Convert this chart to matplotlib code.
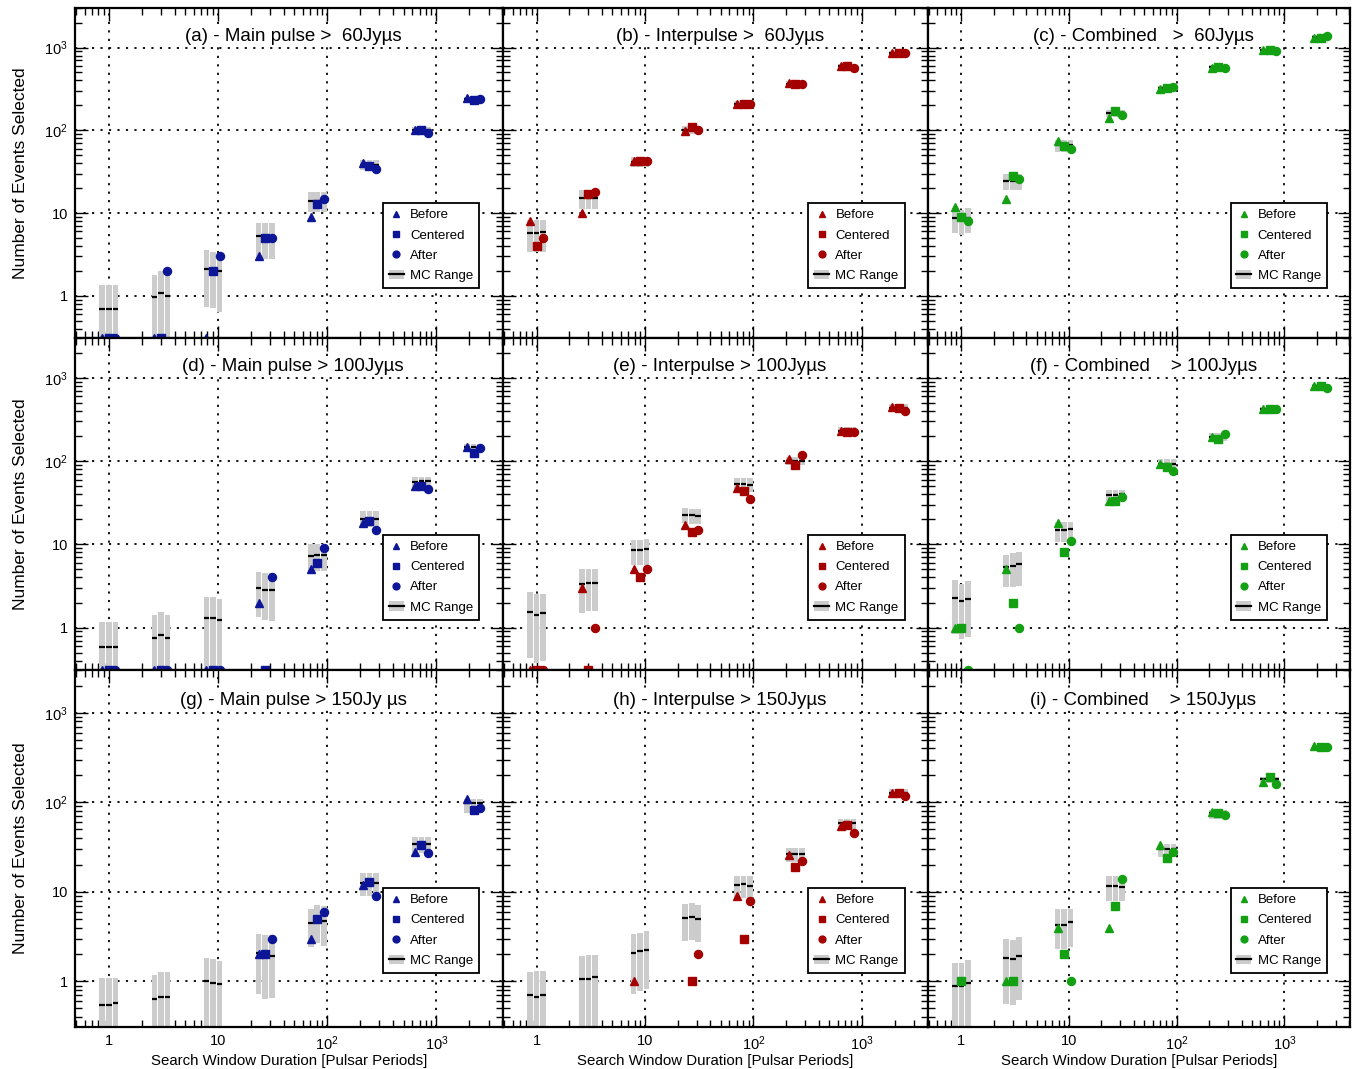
import numpy as np
import matplotlib
matplotlib.use("Agg")
import matplotlib.pyplot as plt
from matplotlib.lines import Line2D
from matplotlib.patches import Patch
from matplotlib.ticker import FixedLocator, LogLocator, NullFormatter

plt.rcParams["font.family"] = ["Liberation Sans", "DejaVu Sans"]

# search windows (pulsar periods)
WINDOWS = [1, 3, 9, 27, 81, 243, 729, 2187]

# ── (a) Main pulse > 60 ──
A_PTS = [[0, 0, 0, 3, 9, 40, 100, 245],
         [0, 0, 2, 5, 13, 37, 100, 230],
         [0, 2, 3, 5, 15, 34, 93, 240]]
A_LO = [[0, 0, 0.74, 2.8, 10.2, 33, 90, 220],
        [0, 0, 0.72, 2.8, 10.2, 33, 90, 220],
        [0, 0, 0.64, 2.8, 10.2, 33, 90, 220]]
A_HI = [[1.34, 1.8, 3.57, 7.5, 17.9, 44, 110, 255],
        [1.34, 1.98, 3.4, 7.5, 17.9, 44, 110, 255],
        [1.34, 1.98, 3.3, 7.5, 17.9, 44, 110, 255]]
A_MED = [[0.69, 0.96, 2.1, 5.3, 14.1, 38, 100, 238],
         [0.69, 1.08, 2.1, 5.0, 14.0, 38, 100, 238],
         [0.69, 1.0, 2.0, 5.0, 13.5, 38, 100, 238]]

# ── (b) Interpulse > 60 ──
B_PTS = [[8, 10, 43, 97, 208, 371, 602, 850],
         [4, 17, 42, 110, 208, 366, 600, 850],
         [5, 18, 43, 100, 206, 360, 570, 850]]
B_LO = [[3.35, 11.2, 36, 90, 192, 340, 545, 800]] * 3
B_HI = [[8.3, 19.1, 47.5, 114, 225, 395, 640, 905]] * 3
B_MED = [[5.8, 15.3, 41, 100, 208, 366, 595, 850],
         [5.7, 15.3, 41, 100, 208, 366, 595, 850],
         [5.9, 15.3, 41, 100, 208, 366, 595, 850]]

# ── (c) Combined > 60 ──
C_PTS = [[12, 15, 74, 140, 318, 565, 940, 1315],
         [9, 28, 65, 170, 320, 580, 940, 1320],
         [8, 26, 59, 153, 329, 570, 915, 1370]]
C_LO = [[5.75, 19.1, 55, 145, 300, 540, 900, 1280],
        [5.4, 19.1, 55, 145, 300, 540, 900, 1280],
        [5.8, 19.1, 55, 145, 300, 540, 900, 1280]]
C_HI = [[11.5, 29.9, 77, 178, 340, 610, 990, 1400],
        [10.9, 29.9, 77, 178, 340, 610, 990, 1400],
        [11.6, 29.9, 77, 178, 340, 610, 990, 1400]]
C_MED = [[8.8, 24.3, 65.7, 161, 320, 575, 940, 1340],
         [8.7, 24.3, 65.7, 161, 320, 575, 940, 1340],
         [8.8, 24.3, 65.7, 161, 320, 575, 940, 1340]]

# ── (d) Main pulse > 100 ──
D_PTS = [[0, 0, 0, 2, 5, 18, 50, 146],
         [0, 0, 0, 0, 6, 19, 50, 124],
         [0, 0, 0, 4, 9, 15, 46, 144]]
D_LO = [[0, 0, 0, 1.36, 4.8, 16.3, 47, 130],
        [0, 0, 0, 1.24, 4.8, 16.3, 47, 130],
        [0, 0, 0, 1.2, 4.8, 16.3, 47, 130]]
D_HI = [[1.16, 1.42, 2.33, 4.7, 10.2, 25, 64.5, 158],
        [1.16, 1.53, 2.33, 4.5, 10.2, 25, 64.5, 158],
        [1.16, 1.42, 2.19, 4.5, 10.2, 25, 64.5, 158]]
D_MED = [[0.59, 0.745, 1.32, 3.02, 7.3, 20.3, 56.5, 146],
         [0.59, 0.816, 1.32, 2.83, 7.5, 20.3, 58, 146],
         [0.59, 0.76, 1.24, 2.83, 7.5, 20.3, 58, 146]]

# ── (e) Interpulse > 100 ──
E_PTS = [[0, 3, 5, 17, 47, 107, 230, 446],
         [0, 0, 4, 14, 44, 89, 225, 437],
         [0, 1, 5, 15, 35, 118, 225, 400]]
E_LO = [[0.43, 1.5, 5.6, 17.9, 42, 90, 205, 400],
        [0.38, 1.58, 5.6, 17.6, 42, 90, 205, 400],
        [0.40, 1.58, 5.7, 17.6, 42, 90, 205, 400]]
E_HI = [[2.65, 5.0, 11.3, 27.5, 63, 112, 255, 480],
        [2.5, 5.1, 11.3, 26.5, 63, 112, 255, 480],
        [2.55, 5.1, 11.6, 26.5, 63, 112, 255, 480]]
E_MED = [[1.54, 3.3, 8.6, 22.5, 53, 100, 230, 437],
         [1.43, 3.4, 8.6, 22.5, 53, 100, 230, 437],
         [1.48, 3.4, 8.8, 22.0, 52, 101, 230, 437]]

# ── (f) Combined > 100 ──
F_PTS = [[1, 5, 18, 33, 92, 195, 420, 790],
         [1, 2, 8, 33, 85, 184, 420, 790],
         [0, 1, 11, 37, 75, 210, 420, 755]]
F_LO = [[0.83, 3.07, 10.8, 33, 80, 175, 390, 740],
        [0.74, 3.1, 10.8, 33, 80, 175, 390, 740],
        [0.77, 3.2, 10.8, 33, 80, 175, 390, 740]]
F_HI = [[3.68, 7.5, 18.7, 45, 105, 215, 450, 840],
        [3.36, 7.8, 18.7, 45, 105, 215, 450, 840],
        [3.58, 8.0, 18.7, 45, 105, 215, 450, 840]]
F_MED = [[2.29, 5.4, 14.9, 39, 92, 195, 420, 790],
         [2.08, 5.5, 14.9, 39, 92, 195, 420, 790],
         [2.18, 5.8, 15.1, 40, 92, 195, 420, 790]]

# ── (g) Main pulse > 150 ──
G_PTS = [[0, 0, 0, 2, 3, 12, 28, 110],
         [0, 0, 0, 2, 5, 13, 33, 82],
         [0, 0, 0, 3, 6, 9, 27, 87]]
G_LO = [[0, 0, 0, 0.73, 2.4, 9, 27, 76],
        [0, 0, 0, 0.64, 2.68, 9, 27, 76],
        [0, 0, 0, 0.66, 2.5, 9, 27, 76]]
G_HI = [[1.08, 1.18, 1.85, 3.4, 6.5, 16.2, 40.8, 108],
        [1.08, 1.28, 1.78, 3.27, 7.06, 16.2, 40.8, 108],
        [1.1, 1.28, 1.69, 3.27, 6.9, 16.2, 40.8, 108]]
G_MED = [[0.54, 0.63, 1.02, 2.07, 4.5, 12.6, 34, 97],
         [0.54, 0.67, 0.97, 1.93, 4.9, 12.6, 34, 97],
         [0.57, 0.67, 0.93, 1.93, 4.7, 12.6, 34, 97]]

# ── (h) Interpulse > 150 ──
H_PTS = [[0, 0, 1, 0, 9, 26, 55, 128],
         [0, 0, 0, 1, 3, 19, 56, 126],
         [0, 0, 0, 2, 8, 22, 45, 118]]
H_LO = [[0, 0, 0.73, 2.85, 8.6, 21.4, 49.4, 112],
        [0, 0, 0.78, 2.9, 8.6, 21.4, 49.4, 112],
        [0, 0, 0.83, 2.75, 8.6, 21.4, 49.4, 112]]
H_HI = [[1.28, 1.9, 3.4, 7.4, 15, 31, 65.7, 139],
        [1.32, 1.95, 3.47, 7.6, 15, 31, 65.7, 139],
        [1.32, 1.95, 3.69, 7.1, 15, 31, 65.7, 139]]
H_MED = [[0.70, 1.07, 2.1, 5.1, 11.9, 26.5, 58.7, 126],
         [0.67, 1.07, 2.16, 5.25, 12.2, 26.5, 58.7, 126],
         [0.71, 1.12, 2.25, 5.0, 11.5, 26.5, 58.7, 126]]

# ── (i) Combined > 150 ──
I_PTS = [[0, 1, 4, 4, 33, 78, 170, 422],
         [1, 1, 2, 7, 24, 75, 194, 414],
         [0, 0, 1, 14, 28, 72, 159, 414]]
I_LO = [[0, 0.56, 2.3, 8, 24.2, 65, 165, 395],
        [0, 0.54, 2.3, 8, 24.2, 65, 165, 395],
        [0, 0.62, 2.4, 8, 24.2, 65, 165, 395]]
I_HI = [[1.62, 2.99, 6.4, 15, 34.3, 83, 190, 440],
        [1.62, 2.92, 6.4, 15, 34.3, 83, 190, 440],
        [1.75, 3.1, 6.5, 15, 34.3, 83, 190, 440]]
I_MED = [[0.89, 1.82, 4.3, 11.7, 30.2, 75, 180, 414],
         [0.89, 1.78, 4.3, 11.7, 30.2, 75, 180, 414],
         [0.95, 1.9, 4.6, 11.3, 30.0, 75, 180, 414]]

TITLES = ["(a) - Main pulse >  60Jyµs", "(b) - Interpulse >  60Jyµs",
          "(c) - Combined   >  60Jyµs", "(d) - Main pulse > 100Jyµs",
          "(e) - Interpulse > 100Jyµs", "(f) - Combined    > 100Jyµs",
          "(g) - Main pulse > 150Jy µs", "(h) - Interpulse > 150Jyµs",
          "(i) - Combined    > 150Jyµs"]
COLORS = ["#0c1697", "#a50000", "#13a013"]   # per column
SERIES = ["Before", "Centered", "After"]
MARKERS = ["^", "s", "o"]
MSIZE = [5.6, 5.4, 5.8]
OFFS = [10**-0.06, 1.0, 10**0.06]           # x shift of before / centered / after
HALF = 0.026                                # half bar width in decades
SHOW_ZERO = [True, True, False]             # zero counts pinned to the floor (per row)

PANELS = [(A_PTS, A_LO, A_HI, A_MED), (B_PTS, B_LO, B_HI, B_MED), (C_PTS, C_LO, C_HI, C_MED),
          (D_PTS, D_LO, D_HI, D_MED), (E_PTS, E_LO, E_HI, E_MED), (F_PTS, F_LO, F_HI, F_MED),
          (G_PTS, G_LO, G_HI, G_MED), (H_PTS, H_LO, H_HI, H_MED), (I_PTS, I_LO, I_HI, I_MED)]

W, H = 1369, 1069
COL_EDGES = [75, 503, 928, 1350]
ROW_EDGES = [8, 338, 670, 1027]
XLIM = (0.49, 4070)
YLIM = (0.31, 3000)
GRAY = "#cccccc"

fig = plt.figure(figsize=(W / 100, H / 100), dpi=100)

for k, (pts, lo, hi, med) in enumerate(PANELS):
    r, c = divmod(k, 3)
    x0, x1 = COL_EDGES[c], COL_EDGES[c + 1]
    y0, y1 = ROW_EDGES[r], ROW_EDGES[r + 1]
    ax = fig.add_axes([x0 / W, 1 - y1 / H, (x1 - x0) / W, (y1 - y0) / H])
    ax.set_xscale("log"); ax.set_yscale("log")
    ax.set_xlim(*XLIM); ax.set_ylim(*YLIM)
    col = COLORS[c]

    for j in range(3):
        xc = np.array(WINDOWS, float) * OFFS[j]
        left = xc * 10**-HALF
        width = xc * (10**HALF - 10**-HALF)
        l = np.maximum(np.array(lo[j], float), 0.05)
        h = np.array(hi[j], float)
        ax.bar(left, h - l, width=width, bottom=l, align="edge",
               color=GRAY, lw=0, zorder=2)
        ax.hlines(med[j], left, left + width, colors="k", lw=1.6, zorder=3)

    for j in range(3):
        xc = np.array(WINDOWS, float) * OFFS[j]
        y = np.array(pts[j], float)
        y[y <= 0] = YLIM[0] if SHOW_ZERO[r] else np.nan
        ax.plot(xc, y, ls="none", marker=MARKERS[j], ms=MSIZE[j], color=col,
                mec=col, zorder=4)

    ax.text(0.51, 0.915, TITLES[k], transform=ax.transAxes, ha="center",
            va="center", fontsize=13.5, zorder=5,
            bbox=dict(fc="white", ec="none", pad=1))

    for axis in (ax.xaxis, ax.yaxis):
        axis.set_major_locator(FixedLocator([1, 10, 100, 1000]))
        axis.set_minor_locator(LogLocator(base=10, subs=np.arange(2, 10)))
        axis.set_minor_formatter(NullFormatter())
    ticklab = ["1", "10", r"$\mathregular{10^2}$", r"$\mathregular{10^3}$"]
    ax.set_xticklabels(ticklab); ax.set_yticklabels(ticklab)
    ax.tick_params(which="both", direction="in", top=True, right=True,
                   labelsize=10.5, width=1)
    ax.tick_params(which="major", length=9, pad=5)
    ax.tick_params(which="minor", length=5)
    ax.tick_params(labelbottom=(r == 2), labelleft=(c == 0))
    ax.grid(True, which="major", color="k", ls=(0, (1.2, 3.5)), lw=1.3)
    ax.set_axisbelow(True)
    for sp in ax.spines.values():
        sp.set_linewidth(1.6)

    if c == 0:
        ax.set_ylabel("Number of Events Selected", fontsize=12.5, labelpad=12)
    if r == 2:
        ax.set_xlabel("Search Window Duration [Pulsar Periods]", fontsize=10.8,
                      labelpad=1)

    handles = [Line2D([], [], ls="none", marker=MARKERS[j], ms=MSIZE[j] * 0.85,
                      color=col) for j in range(3)]
    handles.append((Patch(facecolor=GRAY, edgecolor="none"),
                    Line2D([], [], color="k", lw=1.6)))
    leg = ax.legend(handles, SERIES + ["MC Range"], loc="lower right",
                    bbox_to_anchor=(0.945, 0.152), fontsize=9.5, frameon=True,
                    fancybox=False, framealpha=1, edgecolor="k",
                    handlelength=1.1, handletextpad=0.5, labelspacing=0.6,
                    borderpad=0.45, borderaxespad=0)
    leg.get_frame().set_linewidth(1.3)
    leg.set_zorder(6)

fig.savefig("out.png", dpi=100)
